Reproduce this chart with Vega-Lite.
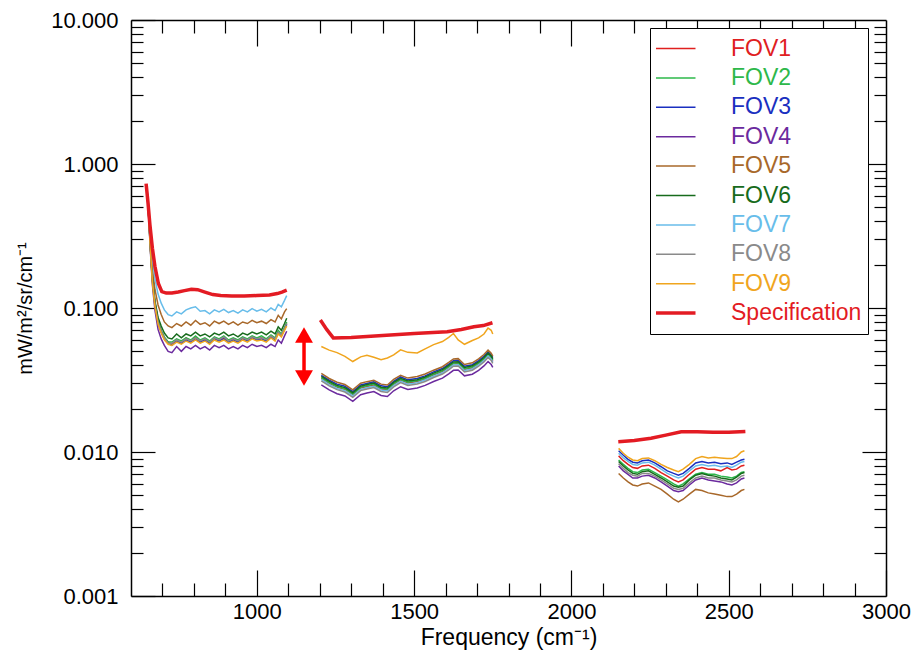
{
"$schema": "https://vega.github.io/schema/vega-lite/v6.json",
"width": 755, "height": 576,
"autosize": {"type": "none"},
"padding": {"left": 131, "top": 20, "right": 28, "bottom": 56},
"background": "white",
"config": {
  "view": {"stroke": null},
  "font": "Liberation Sans",
  "axis": {"domainColor": "black", "domainWidth": 1.5, "tickColor": "black", "tickWidth": 1.2, "labelColor": "black", "titleColor": "black", "labelFont": "Liberation Sans", "titleFont": "Liberation Sans", "labelFontSize": 22, "titleFontWeight": "normal", "grid": false, "labelFlush": false, "labelOverlap": false}
},
"datasets": {
"fov": [
{"b":1,"x":650,"FOV1":0.70,"FOV2":0.69,"FOV3":0.70,"FOV4":0.68,"FOV5":0.71,"FOV6":0.70,"FOV7":0.72,"FOV8":0.69,"FOV9":0.69},
{"b":1,"x":656,"FOV1":0.45,"FOV2":0.44,"FOV3":0.45,"FOV4":0.43,"FOV5":0.47,"FOV6":0.45,"FOV7":0.50,"FOV8":0.44,"FOV9":0.44},
{"b":1,"x":662,"FOV1":0.26,"FOV2":0.25,"FOV3":0.26,"FOV4":0.24,"FOV5":0.29,"FOV6":0.26,"FOV7":0.32,"FOV8":0.25,"FOV9":0.25},
{"b":1,"x":668,"FOV1":0.16,"FOV2":0.155,"FOV3":0.16,"FOV4":0.145,"FOV5":0.19,"FOV6":0.16,"FOV7":0.22,"FOV8":0.155,"FOV9":0.15},
{"b":1,"x":676,"FOV1":0.11,"FOV2":0.108,"FOV3":0.105,"FOV4":0.097,"FOV5":0.135,"FOV6":0.112,"FOV7":0.16,"FOV8":0.106,"FOV9":0.103},
{"b":1,"x":686,"FOV1":0.082,"FOV2":0.082,"FOV3":0.079,"FOV4":0.071,"FOV5":0.105,"FOV6":0.086,"FOV7":0.125,"FOV8":0.08,"FOV9":0.077},
{"b":1,"x":696,"FOV1":0.069,"FOV2":0.070,"FOV3":0.068,"FOV4":0.061,"FOV5":0.090,"FOV6":0.075,"FOV7":0.108,"FOV8":0.069,"FOV9":0.067},
{"b":1,"x":706,"FOV1":0.062,"FOV2":0.063,"FOV3":0.061,"FOV4":0.055,"FOV5":0.080,"FOV6":0.067,"FOV7":0.097,"FOV8":0.062,"FOV9":0.060},
{"b":1,"x":718,"FOV1":0.058,"FOV2":0.058,"FOV3":0.057,"FOV4":0.050,"FOV5":0.075,"FOV6":0.062,"FOV7":0.090,"FOV8":0.057,"FOV9":0.056},
{"b":1,"x":730,"FOV1":0.056,"FOV2":0.058,"FOV3":0.055,"FOV4":0.049,"FOV5":0.073,"FOV6":0.061,"FOV7":0.088,"FOV8":0.057,"FOV9":0.055},
{"b":1,"x":745,"FOV1":0.060,"FOV2":0.061,"FOV3":0.059,"FOV4":0.054,"FOV5":0.078,"FOV6":0.066,"FOV7":0.094,"FOV8":0.060,"FOV9":0.058},
{"b":1,"x":760,"FOV1":0.057,"FOV2":0.059,"FOV3":0.057,"FOV4":0.050,"FOV5":0.075,"FOV6":0.062,"FOV7":0.091,"FOV8":0.058,"FOV9":0.056},
{"b":1,"x":775,"FOV1":0.062,"FOV2":0.062,"FOV3":0.060,"FOV4":0.054,"FOV5":0.080,"FOV6":0.066,"FOV7":0.097,"FOV8":0.061,"FOV9":0.059},
{"b":1,"x":790,"FOV1":0.059,"FOV2":0.060,"FOV3":0.058,"FOV4":0.052,"FOV5":0.076,"FOV6":0.064,"FOV7":0.100,"FOV8":0.059,"FOV9":0.057},
{"b":1,"x":805,"FOV1":0.063,"FOV2":0.064,"FOV3":0.061,"FOV4":0.055,"FOV5":0.082,"FOV6":0.068,"FOV7":0.102,"FOV8":0.062,"FOV9":0.060},
{"b":1,"x":820,"FOV1":0.059,"FOV2":0.060,"FOV3":0.058,"FOV4":0.052,"FOV5":0.077,"FOV6":0.064,"FOV7":0.095,"FOV8":0.059,"FOV9":0.057},
{"b":1,"x":835,"FOV1":0.061,"FOV2":0.062,"FOV3":0.060,"FOV4":0.054,"FOV5":0.079,"FOV6":0.066,"FOV7":0.096,"FOV8":0.061,"FOV9":0.059},
{"b":1,"x":850,"FOV1":0.058,"FOV2":0.059,"FOV3":0.057,"FOV4":0.051,"FOV5":0.075,"FOV6":0.063,"FOV7":0.091,"FOV8":0.058,"FOV9":0.056},
{"b":1,"x":865,"FOV1":0.062,"FOV2":0.063,"FOV3":0.061,"FOV4":0.055,"FOV5":0.081,"FOV6":0.067,"FOV7":0.097,"FOV8":0.062,"FOV9":0.060},
{"b":1,"x":880,"FOV1":0.060,"FOV2":0.061,"FOV3":0.059,"FOV4":0.053,"FOV5":0.078,"FOV6":0.065,"FOV7":0.094,"FOV8":0.060,"FOV9":0.058},
{"b":1,"x":895,"FOV1":0.062,"FOV2":0.064,"FOV3":0.061,"FOV4":0.055,"FOV5":0.081,"FOV6":0.068,"FOV7":0.098,"FOV8":0.063,"FOV9":0.060},
{"b":1,"x":910,"FOV1":0.059,"FOV2":0.060,"FOV3":0.058,"FOV4":0.052,"FOV5":0.077,"FOV6":0.064,"FOV7":0.093,"FOV8":0.059,"FOV9":0.057},
{"b":1,"x":925,"FOV1":0.061,"FOV2":0.062,"FOV3":0.060,"FOV4":0.054,"FOV5":0.080,"FOV6":0.066,"FOV7":0.096,"FOV8":0.061,"FOV9":0.059},
{"b":1,"x":940,"FOV1":0.059,"FOV2":0.060,"FOV3":0.058,"FOV4":0.052,"FOV5":0.076,"FOV6":0.063,"FOV7":0.092,"FOV8":0.059,"FOV9":0.057},
{"b":1,"x":955,"FOV1":0.062,"FOV2":0.063,"FOV3":0.061,"FOV4":0.055,"FOV5":0.080,"FOV6":0.067,"FOV7":0.097,"FOV8":0.062,"FOV9":0.060},
{"b":1,"x":970,"FOV1":0.060,"FOV2":0.061,"FOV3":0.059,"FOV4":0.053,"FOV5":0.078,"FOV6":0.065,"FOV7":0.094,"FOV8":0.060,"FOV9":0.058},
{"b":1,"x":985,"FOV1":0.063,"FOV2":0.064,"FOV3":0.062,"FOV4":0.056,"FOV5":0.082,"FOV6":0.068,"FOV7":0.099,"FOV8":0.063,"FOV9":0.061},
{"b":1,"x":1000,"FOV1":0.061,"FOV2":0.062,"FOV3":0.060,"FOV4":0.054,"FOV5":0.079,"FOV6":0.066,"FOV7":0.095,"FOV8":0.061,"FOV9":0.059},
{"b":1,"x":1015,"FOV1":0.062,"FOV2":0.064,"FOV3":0.061,"FOV4":0.055,"FOV5":0.081,"FOV6":0.068,"FOV7":0.098,"FOV8":0.062,"FOV9":0.060},
{"b":1,"x":1030,"FOV1":0.060,"FOV2":0.061,"FOV3":0.059,"FOV4":0.053,"FOV5":0.078,"FOV6":0.065,"FOV7":0.094,"FOV8":0.060,"FOV9":0.058},
{"b":1,"x":1045,"FOV1":0.064,"FOV2":0.065,"FOV3":0.063,"FOV4":0.056,"FOV5":0.083,"FOV6":0.069,"FOV7":0.100,"FOV8":0.064,"FOV9":0.062},
{"b":1,"x":1058,"FOV1":0.061,"FOV2":0.062,"FOV3":0.060,"FOV4":0.054,"FOV5":0.080,"FOV6":0.066,"FOV7":0.096,"FOV8":0.061,"FOV9":0.059},
{"b":1,"x":1068,"FOV1":0.068,"FOV2":0.070,"FOV3":0.067,"FOV4":0.060,"FOV5":0.089,"FOV6":0.074,"FOV7":0.106,"FOV8":0.068,"FOV9":0.066},
{"b":1,"x":1078,"FOV1":0.065,"FOV2":0.066,"FOV3":0.064,"FOV4":0.057,"FOV5":0.084,"FOV6":0.070,"FOV7":0.102,"FOV8":0.065,"FOV9":0.063},
{"b":1,"x":1088,"FOV1":0.072,"FOV2":0.073,"FOV3":0.071,"FOV4":0.064,"FOV5":0.094,"FOV6":0.078,"FOV7":0.113,"FOV8":0.072,"FOV9":0.070},
{"b":1,"x":1095,"FOV1":0.078,"FOV2":0.080,"FOV3":0.077,"FOV4":0.069,"FOV5":0.099,"FOV6":0.085,"FOV7":0.122,"FOV8":0.078,"FOV9":0.075},
{"b":2,"x":1205,"FOV1":0.0325,"FOV2":0.0328,"FOV3":0.0341,"FOV4":0.0293,"FOV5":0.0351,"FOV6":0.0335,"FOV7":0.0319,"FOV8":0.0312,"FOV9":0.0540},
{"b":2,"x":1230,"FOV1":0.0300,"FOV2":0.0303,"FOV3":0.0315,"FOV4":0.0270,"FOV5":0.0324,"FOV6":0.0309,"FOV7":0.0294,"FOV8":0.0288,"FOV9":0.0510},
{"b":2,"x":1255,"FOV1":0.0282,"FOV2":0.0285,"FOV3":0.0296,"FOV4":0.0254,"FOV5":0.0305,"FOV6":0.0290,"FOV7":0.0276,"FOV8":0.0271,"FOV9":0.0490},
{"b":2,"x":1280,"FOV1":0.0272,"FOV2":0.0275,"FOV3":0.0286,"FOV4":0.0245,"FOV5":0.0294,"FOV6":0.0280,"FOV7":0.0267,"FOV8":0.0261,"FOV9":0.0462},
{"b":2,"x":1305,"FOV1":0.0250,"FOV2":0.0253,"FOV3":0.0263,"FOV4":0.0225,"FOV5":0.0270,"FOV6":0.0258,"FOV7":0.0245,"FOV8":0.0240,"FOV9":0.0425},
{"b":2,"x":1330,"FOV1":0.0278,"FOV2":0.0281,"FOV3":0.0292,"FOV4":0.0250,"FOV5":0.0300,"FOV6":0.0286,"FOV7":0.0272,"FOV8":0.0267,"FOV9":0.0458},
{"b":2,"x":1350,"FOV1":0.0285,"FOV2":0.0288,"FOV3":0.0299,"FOV4":0.0257,"FOV5":0.0308,"FOV6":0.0294,"FOV7":0.0279,"FOV8":0.0274,"FOV9":0.0470},
{"b":2,"x":1372,"FOV1":0.0292,"FOV2":0.0295,"FOV3":0.0307,"FOV4":0.0263,"FOV5":0.0315,"FOV6":0.0301,"FOV7":0.0286,"FOV8":0.0280,"FOV9":0.0455},
{"b":2,"x":1395,"FOV1":0.0274,"FOV2":0.0277,"FOV3":0.0288,"FOV4":0.0247,"FOV5":0.0296,"FOV6":0.0282,"FOV7":0.0269,"FOV8":0.0263,"FOV9":0.0438},
{"b":2,"x":1415,"FOV1":0.0270,"FOV2":0.0273,"FOV3":0.0284,"FOV4":0.0243,"FOV5":0.0292,"FOV6":0.0278,"FOV7":0.0265,"FOV8":0.0259,"FOV9":0.0450},
{"b":2,"x":1435,"FOV1":0.0295,"FOV2":0.0298,"FOV3":0.0310,"FOV4":0.0266,"FOV5":0.0319,"FOV6":0.0304,"FOV7":0.0289,"FOV8":0.0283,"FOV9":0.0472},
{"b":2,"x":1457,"FOV1":0.0316,"FOV2":0.0319,"FOV3":0.0332,"FOV4":0.0284,"FOV5":0.0341,"FOV6":0.0325,"FOV7":0.0310,"FOV8":0.0303,"FOV9":0.0512},
{"b":2,"x":1480,"FOV1":0.0302,"FOV2":0.0305,"FOV3":0.0317,"FOV4":0.0272,"FOV5":0.0326,"FOV6":0.0311,"FOV7":0.0296,"FOV8":0.0290,"FOV9":0.0492},
{"b":2,"x":1510,"FOV1":0.0309,"FOV2":0.0312,"FOV3":0.0324,"FOV4":0.0278,"FOV5":0.0334,"FOV6":0.0318,"FOV7":0.0303,"FOV8":0.0297,"FOV9":0.0487},
{"b":2,"x":1535,"FOV1":0.0322,"FOV2":0.0325,"FOV3":0.0338,"FOV4":0.0290,"FOV5":0.0348,"FOV6":0.0332,"FOV7":0.0316,"FOV8":0.0309,"FOV9":0.0520},
{"b":2,"x":1562,"FOV1":0.0343,"FOV2":0.0346,"FOV3":0.0360,"FOV4":0.0309,"FOV5":0.0370,"FOV6":0.0353,"FOV7":0.0336,"FOV8":0.0329,"FOV9":0.0557},
{"b":2,"x":1590,"FOV1":0.0362,"FOV2":0.0366,"FOV3":0.0380,"FOV4":0.0326,"FOV5":0.0391,"FOV6":0.0373,"FOV7":0.0355,"FOV8":0.0348,"FOV9":0.0585},
{"b":2,"x":1610,"FOV1":0.0388,"FOV2":0.0392,"FOV3":0.0407,"FOV4":0.0349,"FOV5":0.0419,"FOV6":0.0400,"FOV7":0.0380,"FOV8":0.0372,"FOV9":0.0625},
{"b":2,"x":1625,"FOV1":0.0410,"FOV2":0.0414,"FOV3":0.0431,"FOV4":0.0369,"FOV5":0.0443,"FOV6":0.0422,"FOV7":0.0402,"FOV8":0.0394,"FOV9":0.0665},
{"b":2,"x":1640,"FOV1":0.0412,"FOV2":0.0416,"FOV3":0.0433,"FOV4":0.0371,"FOV5":0.0445,"FOV6":0.0424,"FOV7":0.0404,"FOV8":0.0396,"FOV9":0.0600},
{"b":2,"x":1660,"FOV1":0.0375,"FOV2":0.0379,"FOV3":0.0394,"FOV4":0.0338,"FOV5":0.0405,"FOV6":0.0386,"FOV7":0.0368,"FOV8":0.0360,"FOV9":0.0560},
{"b":2,"x":1685,"FOV1":0.0385,"FOV2":0.0389,"FOV3":0.0404,"FOV4":0.0347,"FOV5":0.0416,"FOV6":0.0397,"FOV7":0.0377,"FOV8":0.0370,"FOV9":0.0595},
{"b":2,"x":1705,"FOV1":0.0410,"FOV2":0.0414,"FOV3":0.0431,"FOV4":0.0369,"FOV5":0.0443,"FOV6":0.0422,"FOV7":0.0402,"FOV8":0.0394,"FOV9":0.0620},
{"b":2,"x":1722,"FOV1":0.0440,"FOV2":0.0444,"FOV3":0.0462,"FOV4":0.0396,"FOV5":0.0475,"FOV6":0.0453,"FOV7":0.0431,"FOV8":0.0422,"FOV9":0.0660},
{"b":2,"x":1735,"FOV1":0.0472,"FOV2":0.0477,"FOV3":0.0496,"FOV4":0.0425,"FOV5":0.0510,"FOV6":0.0486,"FOV7":0.0463,"FOV8":0.0453,"FOV9":0.0725},
{"b":2,"x":1745,"FOV1":0.0450,"FOV2":0.0455,"FOV3":0.0473,"FOV4":0.0405,"FOV5":0.0486,"FOV6":0.0464,"FOV7":0.0441,"FOV8":0.0432,"FOV9":0.0700},
{"b":2,"x":1750,"FOV1":0.0430,"FOV2":0.0434,"FOV3":0.0452,"FOV4":0.0387,"FOV5":0.0464,"FOV6":0.0443,"FOV7":0.0421,"FOV8":0.0413,"FOV9":0.0660},
{"b":3,"x":2150,"FOV1":0.0094,"FOV2":0.0088,"FOV3":0.0102,"FOV4":0.0080,"FOV5":0.0071,"FOV6":0.0086,"FOV7":0.0098,"FOV8":0.0083,"FOV9":0.0106},
{"b":3,"x":2165,"FOV1":0.0087,"FOV2":0.0082,"FOV3":0.0095,"FOV4":0.0074,"FOV5":0.0066,"FOV6":0.0080,"FOV7":0.0091,"FOV8":0.0077,"FOV9":0.0098},
{"b":3,"x":2180,"FOV1":0.0082,"FOV2":0.0077,"FOV3":0.0089,"FOV4":0.0070,"FOV5":0.0062,"FOV6":0.0075,"FOV7":0.0086,"FOV8":0.0072,"FOV9":0.0092},
{"b":3,"x":2195,"FOV1":0.0078,"FOV2":0.0073,"FOV3":0.0085,"FOV4":0.0066,"FOV5":0.0059,"FOV6":0.0071,"FOV7":0.0082,"FOV8":0.0069,"FOV9":0.0088},
{"b":3,"x":2210,"FOV1":0.0077,"FOV2":0.0072,"FOV3":0.0084,"FOV4":0.0066,"FOV5":0.0058,"FOV6":0.0070,"FOV7":0.0081,"FOV8":0.0068,"FOV9":0.0087},
{"b":3,"x":2225,"FOV1":0.0080,"FOV2":0.0075,"FOV3":0.0087,"FOV4":0.0068,"FOV5":0.0060,"FOV6":0.0073,"FOV7":0.0084,"FOV8":0.0071,"FOV9":0.0090},
{"b":3,"x":2245,"FOV1":0.0081,"FOV2":0.0076,"FOV3":0.0088,"FOV4":0.0069,"FOV5":0.0061,"FOV6":0.0074,"FOV7":0.0085,"FOV8":0.0071,"FOV9":0.0091},
{"b":3,"x":2265,"FOV1":0.0077,"FOV2":0.0072,"FOV3":0.0084,"FOV4":0.0066,"FOV5":0.0058,"FOV6":0.0070,"FOV7":0.0081,"FOV8":0.0068,"FOV9":0.0087},
{"b":3,"x":2285,"FOV1":0.0072,"FOV2":0.0068,"FOV3":0.0079,"FOV4":0.0062,"FOV5":0.0055,"FOV6":0.0066,"FOV7":0.0076,"FOV8":0.0064,"FOV9":0.0082},
{"b":3,"x":2305,"FOV1":0.0068,"FOV2":0.0064,"FOV3":0.0074,"FOV4":0.0058,"FOV5":0.0051,"FOV6":0.0062,"FOV7":0.0071,"FOV8":0.0060,"FOV9":0.0078},
{"b":3,"x":2325,"FOV1":0.0064,"FOV2":0.0060,"FOV3":0.0071,"FOV4":0.0054,"FOV5":0.0047,"FOV6":0.0058,"FOV7":0.0068,"FOV8":0.0056,"FOV9":0.0075},
{"b":3,"x":2340,"FOV1":0.0062,"FOV2":0.0058,"FOV3":0.0069,"FOV4":0.0053,"FOV5":0.0045,"FOV6":0.0057,"FOV7":0.0066,"FOV8":0.0055,"FOV9":0.0073},
{"b":3,"x":2355,"FOV1":0.0064,"FOV2":0.0060,"FOV3":0.0071,"FOV4":0.0054,"FOV5":0.0047,"FOV6":0.0058,"FOV7":0.0068,"FOV8":0.0056,"FOV9":0.0076},
{"b":3,"x":2375,"FOV1":0.0070,"FOV2":0.0065,"FOV3":0.0077,"FOV4":0.0059,"FOV5":0.0051,"FOV6":0.0064,"FOV7":0.0074,"FOV8":0.0061,"FOV9":0.0082},
{"b":3,"x":2395,"FOV1":0.0076,"FOV2":0.0070,"FOV3":0.0084,"FOV4":0.0064,"FOV5":0.0055,"FOV6":0.0069,"FOV7":0.0080,"FOV8":0.0066,"FOV9":0.0090},
{"b":3,"x":2415,"FOV1":0.0078,"FOV2":0.0072,"FOV3":0.0086,"FOV4":0.0066,"FOV5":0.0054,"FOV6":0.0071,"FOV7":0.0082,"FOV8":0.0068,"FOV9":0.0093},
{"b":3,"x":2435,"FOV1":0.0076,"FOV2":0.0070,"FOV3":0.0084,"FOV4":0.0064,"FOV5":0.0052,"FOV6":0.0069,"FOV7":0.0080,"FOV8":0.0066,"FOV9":0.0091},
{"b":3,"x":2455,"FOV1":0.0076,"FOV2":0.0070,"FOV3":0.0085,"FOV4":0.0063,"FOV5":0.0051,"FOV6":0.0068,"FOV7":0.0081,"FOV8":0.0066,"FOV9":0.0092},
{"b":3,"x":2475,"FOV1":0.0074,"FOV2":0.0068,"FOV3":0.0083,"FOV4":0.0062,"FOV5":0.0050,"FOV6":0.0066,"FOV7":0.0079,"FOV8":0.0064,"FOV9":0.0091},
{"b":3,"x":2495,"FOV1":0.0078,"FOV2":0.0067,"FOV3":0.0084,"FOV4":0.0060,"FOV5":0.0049,"FOV6":0.0065,"FOV7":0.0080,"FOV8":0.0063,"FOV9":0.0090},
{"b":3,"x":2510,"FOV1":0.0075,"FOV2":0.0066,"FOV3":0.0082,"FOV4":0.0059,"FOV5":0.0049,"FOV6":0.0064,"FOV7":0.0078,"FOV8":0.0062,"FOV9":0.0090},
{"b":3,"x":2525,"FOV1":0.0076,"FOV2":0.0068,"FOV3":0.0085,"FOV4":0.0061,"FOV5":0.0051,"FOV6":0.0067,"FOV7":0.0081,"FOV8":0.0064,"FOV9":0.0093},
{"b":3,"x":2540,"FOV1":0.0080,"FOV2":0.0072,"FOV3":0.0088,"FOV4":0.0065,"FOV5":0.0054,"FOV6":0.0071,"FOV7":0.0085,"FOV8":0.0068,"FOV9":0.0100},
{"b":3,"x":2550,"FOV1":0.0081,"FOV2":0.0073,"FOV3":0.0089,"FOV4":0.0066,"FOV5":0.0055,"FOV6":0.0072,"FOV7":0.0086,"FOV8":0.0069,"FOV9":0.0102},
{"b":1,"x":648,"Specification":0.73},
{"b":1,"x":654,"Specification":0.54},
{"b":1,"x":660,"Specification":0.38},
{"b":1,"x":668,"Specification":0.26},
{"b":1,"x":676,"Specification":0.195},
{"b":1,"x":687,"Specification":0.148},
{"b":1,"x":698,"Specification":0.130},
{"b":1,"x":712,"Specification":0.127},
{"b":1,"x":730,"Specification":0.127},
{"b":1,"x":750,"Specification":0.129},
{"b":1,"x":770,"Specification":0.132},
{"b":1,"x":792,"Specification":0.135},
{"b":1,"x":812,"Specification":0.134},
{"b":1,"x":835,"Specification":0.129},
{"b":1,"x":860,"Specification":0.124},
{"b":1,"x":885,"Specification":0.122},
{"b":1,"x":920,"Specification":0.121},
{"b":1,"x":960,"Specification":0.121},
{"b":1,"x":1000,"Specification":0.122},
{"b":1,"x":1040,"Specification":0.123},
{"b":1,"x":1065,"Specification":0.126},
{"b":1,"x":1080,"Specification":0.129},
{"b":1,"x":1095,"Specification":0.133},
{"b":2,"x":1202,"Specification":0.0826},
{"b":2,"x":1222,"Specification":0.071},
{"b":2,"x":1243,"Specification":0.062},
{"b":2,"x":1300,"Specification":0.0625},
{"b":2,"x":1400,"Specification":0.0645},
{"b":2,"x":1500,"Specification":0.0665},
{"b":2,"x":1605,"Specification":0.0685},
{"b":2,"x":1650,"Specification":0.071},
{"b":2,"x":1690,"Specification":0.074},
{"b":2,"x":1720,"Specification":0.0755},
{"b":2,"x":1749,"Specification":0.079},
{"b":3,"x":2149,"Specification":0.0118},
{"b":3,"x":2200,"Specification":0.0120},
{"b":3,"x":2253,"Specification":0.01245},
{"b":3,"x":2300,"Specification":0.0131},
{"b":3,"x":2349,"Specification":0.0138},
{"b":3,"x":2400,"Specification":0.0138},
{"b":3,"x":2450,"Specification":0.0137},
{"b":3,"x":2500,"Specification":0.0137},
{"b":3,"x":2553,"Specification":0.0139}
],
"arrow": [
{"x":1150,"y":0.065,"y2":0.0327,"shape":"triangle-up"},
{"x":1150,"y":0.0327,"y2":0.065,"shape":"triangle-down"}
]
},
"layer": [
{
 "data": {"name": "fov"},
 "transform": [
   {"fold": ["FOV1","FOV2","FOV3","FOV4","FOV5","FOV6","FOV7","FOV8","FOV9","Specification"], "as": ["series","y"]},
   {"filter": "isValid(datum.y) && isFinite(datum.y)"}
 ],
 "mark": {"type": "line", "clip": true},
 "encoding": {
  "x": {"field": "x", "type": "quantitative",
        "scale": {"domain": [600, 3000], "nice": false, "zero": false},
        "axis": {"orient": "bottom", "values": [700,800,900,1000,1100,1200,1300,1400,1500,1600,1700,1800,1900,2000,2100,2200,2300,2400,2500,2600,2700,2800,2900,3000],
                 "labelExpr": "datum.value % 500 === 0 ? format(datum.value, 'd') : ''",
                 "tickSize": {"condition": {"test": "datum.value % 500 === 0", "value": -26}, "value": -13},
                 "labelPadding": 31, "title": "Frequency (cm⁻¹)", "titleFontSize": 23,
                 "titleY": 48, "titleBaseline": "alphabetic"}},
  "y": {"field": "y", "type": "quantitative",
        "scale": {"type": "log", "domain": [0.001, 10], "nice": false},
        "axis": {"orient": "left", "values": [0.001,0.002,0.003,0.004,0.005,0.006,0.007,0.008,0.009,0.01,0.02,0.03,0.04,0.05,0.06,0.07,0.08,0.09,0.1,0.2,0.3,0.4,0.5,0.6,0.7,0.8,0.9,1,2,3,4,5,6,7,8,9,10],
                 "labelExpr": "abs(log(datum.value)/LN10 - round(log(datum.value)/LN10)) < 0.01 ? format(datum.value, '.3f') : ''",
                 "tickSize": {"condition": {"test": "abs(log(datum.value)/LN10 - round(log(datum.value)/LN10)) < 0.01", "value": -24}, "value": -12},
                 "labelPadding": 37, "title": "mW/m²/sr/cm⁻¹", "titleFontSize": 20,
                 "titleX": -106, "titleY": 288, "titleBaseline": "middle", "titleAlign": "center"}},
  "color": {"field": "series", "type": "nominal",
            "scale": {"domain": ["FOV1","FOV2","FOV3","FOV4","FOV5","FOV6","FOV7","FOV8","FOV9","Specification"],
                      "range": ["#e0201f","#2db84a","#1a2fc0","#6b2a9e","#a8682a","#176b1c","#68bdea","#8a8a8a","#f0a51e","#e31b23"]},
            "legend": {"title": null, "orient": "none", "legendX": 519, "legendY": 8,
                       "symbolType": "stroke", "symbolSize": 3136, "symbolStrokeWidth": 1.5,
                       "labelFontSize": 23, "labelFont": "Liberation Sans", "clipHeight": 29, "rowPadding": 0.4,
                       "padding": 6, "labelOffset": 52, "fillColor": "white", "strokeColor": "black", "labelLimit": 300,
                       "encode": {"labels": {"update": {"fill": {"scale": "color", "field": "value"}}},
                                  "symbols": {"update": {"strokeWidth": {"signal": "datum.value === 'Specification' ? 3.5 : 1.5"}}}}}},
  "strokeWidth": {"condition": {"test": "datum.series === 'Specification'", "value": 3.5}, "value": 1.5},
  "detail": {"field": "b", "type": "nominal"}
 }
},
{
 "data": {"name": "arrow"},
 "mark": {"type": "rule", "color": "#ff0000", "strokeWidth": 3},
 "encoding": {
  "x": {"field": "x", "type": "quantitative",
        "axis": {"orient": "top", "values": [700,800,900,1000,1100,1200,1300,1400,1500,1600,1700,1800,1900,2000,2100,2200,2300,2400,2500,2600,2700,2800,2900],
                 "labels": false, "title": null,
                 "tickSize": {"condition": {"test": "datum.value % 500 === 0", "value": -26}, "value": -13}}},
  "y": {"field": "y", "type": "quantitative",
        "axis": {"orient": "right", "values": [0.002,0.003,0.004,0.005,0.006,0.007,0.008,0.009,0.01,0.02,0.03,0.04,0.05,0.06,0.07,0.08,0.09,0.1,0.2,0.3,0.4,0.5,0.6,0.7,0.8,0.9,1,2,3,4,5,6,7,8,9],
                 "labels": false, "title": null,
                 "tickSize": {"condition": {"test": "abs(log(datum.value)/LN10 - round(log(datum.value)/LN10)) < 0.01", "value": -24}, "value": -12}}},
  "y2": {"field": "y2"}
 }
},
{
 "data": {"name": "arrow"},
 "mark": {"type": "point", "filled": true, "color": "#ff0000", "size": 320, "opacity": 1},
 "encoding": {
  "x": {"field": "x", "type": "quantitative", "axis": null},
  "y": {"field": "y", "type": "quantitative", "axis": null},
  "shape": {"field": "shape", "type": "nominal", "scale": null}
 }
}
],
"resolve": {"axis": {"x": "independent", "y": "independent"}}
}
